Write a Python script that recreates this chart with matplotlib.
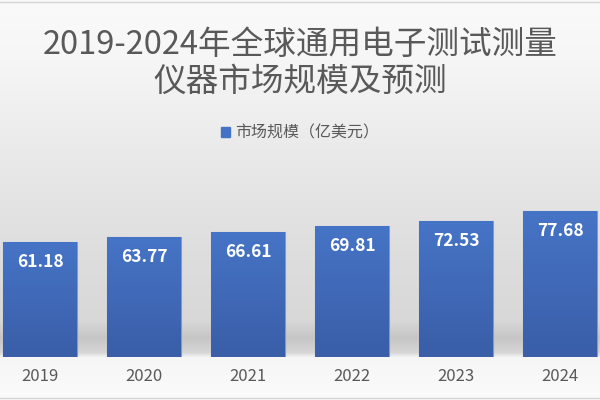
import numpy as np
import matplotlib
matplotlib.use('Agg')
import matplotlib.pyplot as plt
from matplotlib.colors import LinearSegmentedColormap

plt.rcParams['font.family'] = ['Noto Sans CJK SC', 'DejaVu Sans']

years = ['2019', '2020', '2021', '2022', '2023', '2024']
market_size = [61.18, 63.77, 66.61, 69.81, 72.53, 77.68]
series_name = '市场规模（亿美元）'
title_line1 = '2019-2024年全球通用电子测试测量'
title_line2 = '仪器市场规模及预测'

W, H = 600, 400
fig = plt.figure(figsize=(6, 4), dpi=100)

# background gradient (grey wall + floor shadow)
bg = fig.add_axes([0, 0, 1, 1], zorder=0)
stops_y = [0, 60, 150, 250, 320, 338, 352, 357, 400]
stops_g = [250, 246, 234, 222, 216, 198, 214, 246, 251]
rows = np.interp(np.arange(H), stops_y, stops_g) / 255.0
img = np.repeat(rows[:, None], 2, axis=1)
bg.imshow(np.dstack([img, img, img]), aspect='auto', extent=[0, 1, 0, 1],
          interpolation='bilinear')
bg.plot([0, 1], [1 - 1.5 / H, 1 - 1.5 / H], color='#d4d4d4', lw=1)
bg.plot([0, 1], [2.5 / H, 2.5 / H], color='#d4d4d4', lw=1)
bg.set_xlim(0, 1)
bg.set_ylim(0, 1)
bg.axis('off')

# data axes, slightly wider than the figure (left/right bars are clipped)
ax = fig.add_axes([-12 / W, 43 / H, 624 / W, 188 / H], zorder=1)
ax.patch.set_alpha(0)
x = np.arange(len(years))
bars = ax.bar(x, market_size, width=0.71, color='#4472c4',
              edgecolor='#7a9ad6', linewidth=0.8, zorder=2)

bar_cmap = LinearSegmentedColormap.from_list('bar', ['#3a5ea8', '#4674c6'])
grad = np.linspace(0, 1, 100)[:, None]
for b in bars:
    im = ax.imshow(grad, cmap=bar_cmap, origin='lower', aspect='auto',
                   extent=[b.get_x(), b.get_x() + b.get_width(), 0, b.get_height()],
                   zorder=3)
    im.set_clip_path(b)
    ax.annotate(f'{b.get_height():.2f}', (b.get_x() + b.get_width() / 2, b.get_height()),
                xytext=(0, -20), textcoords='offset pixels', ha='center', va='center',
                color='white', fontsize=12.5, fontweight='bold', zorder=4)

ax.set_xlim(-0.5, len(years) - 0.5)
ax.set_ylim(0, 100)
ax.set_xticks(x)
ax.set_xticklabels(years, fontsize=12, color='#595959')
ax.tick_params(axis='x', length=0, pad=8)
ax.set_yticks([])
for s in ax.spines.values():
    s.set_visible(False)

handle = plt.Rectangle((0, 0), 1, 1, color='#4472c4')
fig.legend([handle], [series_name], loc='center', bbox_to_anchor=(0.5, 1 - 133 / H),
           frameon=False, fontsize=11.5, labelcolor='#595959',
           handlelength=0.55, handleheight=0.55, handletextpad=0.3)

fig.text(0.5, 1 - 45 / H, title_line1, ha='center', va='center',
         fontsize=23.5, color='#595959')
fig.text(0.5, 1 - 82 / H, title_line2, ha='center', va='center',
         fontsize=23.5, color='#595959')

fig.savefig('out.png', dpi=100)
